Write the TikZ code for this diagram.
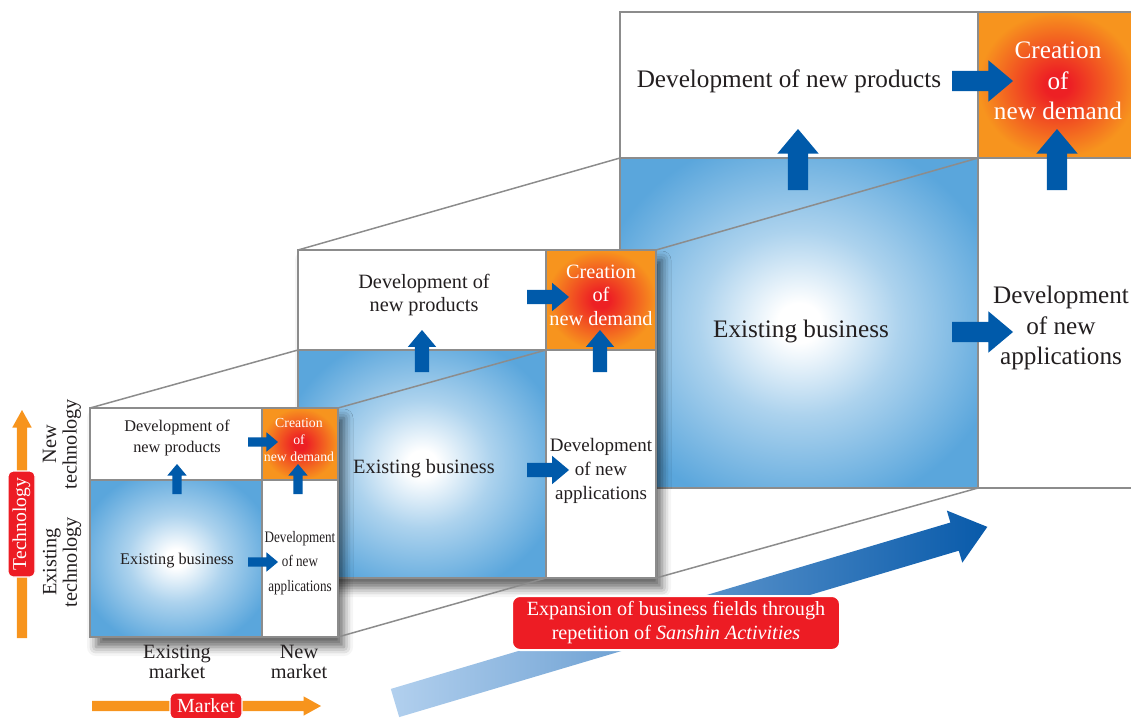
\documentclass[tikz,border=0pt]{standalone}
\usepackage{fontspec}
\setmainfont{Liberation Serif}
\usetikzlibrary{shapes.arrows,shadows.blur}

\definecolor{cellblue}{RGB}{90,166,220}
\definecolor{ndorange}{RGB}{247,148,30}
\definecolor{ndred}{RGB}{237,32,36}
\definecolor{tagred}{RGB}{237,28,36}
\definecolor{arrowblue}{RGB}{0,90,170}
\definecolor{rulegray}{RGB}{140,140,140}
\definecolor{inkgray}{RGB}{35,31,32}
\definecolor{axisorange}{RGB}{247,148,29}
\definecolor{paleblue}{RGB}{178,208,238}
\definecolor{deepblue}{RGB}{8,90,170}
\colorlet{glowmid}{cellblue!50!white}

\pgfdeclareradialshading{bizglow}{\pgfpoint{0bp}{0bp}}{color(0bp)=(white); color(3bp)=(white); color(14bp)=(glowmid); color(29bp)=(cellblue); color(50bp)=(cellblue)}
\pgfdeclareradialshading{demandglow}{\pgfpoint{0bp}{0bp}}{color(0bp)=(ndred); color(4bp)=(ndred); color(25bp)=(ndorange); color(50bp)=(ndorange)}

\begin{document}
\begin{tikzpicture}[x=1pt,y=-1pt,
    cell/.style={draw=rulegray,line width=2pt,inner sep=0pt,outer sep=0pt,anchor=north west},
    plain/.style={cell,fill=white},
    biz/.style={cell,shade,shading=bizglow},
    demand/.style={cell,shade,shading=demandglow},
    gridframe/.style={cell,fill=white,blur shadow={shadow xshift=6pt,shadow yshift=-10pt,shadow blur radius=9pt,shadow opacity=60}},
    guide/.style={draw=rulegray,line width=1.5pt},
    celltext/.style={text=inkgray,align=center,inner sep=0pt},
    demandtext/.style={text=white,align=center,inner sep=0pt},
    sfont/.style={font=\fontsize{16.3}{20.5}\selectfont},
    sdfont/.style={font=\fontsize{13.8}{17}\selectfont},
    snfont/.style={font=\fontsize{16}{24.5}\selectfont},
    mfont/.style={font=\fontsize{20.3}{23.5}\selectfont},
    mnfont/.style={font=\fontsize{19}{24}\selectfont},
    bfont/.style={font=\fontsize{25.2}{30.5}\selectfont},
    blockarrow/.style={single arrow,fill=arrowblue,inner xsep=0pt,outer sep=0pt,minimum width=0pt,anchor=tail,single arrow tip angle=80},
    sarrow/.style={blockarrow,minimum height=30pt,inner ysep=4.5pt,single arrow head extend=5pt},
    marrow/.style={blockarrow,minimum height=42pt,inner ysep=7pt,single arrow head extend=7pt},
    barrow/.style={blockarrow,minimum height=61pt,inner ysep=10pt,single arrow head extend=10.5pt},
    axisarrow/.style={single arrow,fill=axisorange,inner xsep=0pt,inner ysep=5pt,outer sep=0pt,minimum width=0pt,anchor=tail,single arrow head extend=4.5pt,single arrow tip angle=58},
    axistext/.style={text=inkgray,align=center,inner sep=0pt,font=\fontsize{20.3}{20.5}\selectfont},
    tag/.style={fill=tagred,draw=white,line width=1.2pt,rounded corners=5pt,text=white,inner sep=0pt,align=center}]

    \useasboundingbox (0,0) rectangle (1131,717);
    \clip (0,0) rectangle (1131,717);

    \node[plain, minimum width=358pt, minimum height=146pt] (bNP) at (620,12) {};
    \node[demand, minimum width=159pt, minimum height=146pt] (bND) at (978,12) {};
    \node[biz, minimum width=358pt, minimum height=330pt] (bEB) at (620,158) {};
    \node[plain, minimum width=159pt, minimum height=330pt] (bNA) at (978,158) {};

    \node[gridframe, minimum width=358pt, minimum height=328pt] (mGrid) at (298,250) {};
    \node[plain, minimum width=248pt, minimum height=100pt] (mNP) at (298,250) {};
    \node[demand, minimum width=110pt, minimum height=100pt] (mND) at (546,250) {};
    \node[biz, minimum width=248pt, minimum height=228pt] (mEB) at (298,350) {};
    \node[plain, minimum width=110pt, minimum height=228pt] (mNA) at (546,350) {};

    \node[gridframe, minimum width=248pt, minimum height=229pt] (sGrid) at (90,408) {};
    \node[plain, minimum width=172pt, minimum height=72pt] (sNP) at (90,408) {};
    \node[demand, minimum width=76pt, minimum height=72pt] (sND) at (262,408) {};
    \node[biz, minimum width=172pt, minimum height=157pt] (sEB) at (90,480) {};
    \node[plain, minimum width=76pt, minimum height=157pt] (sNA) at (262,480) {};

    \draw[guide] (sGrid.north west) -- (mEB.north west);
    \draw[guide] (sGrid.north east) -- (mEB.north east);
    \draw[guide] (sGrid.south east) -- (mEB.south east);
    \draw[guide] (mGrid.north west) -- (bEB.north west);
    \draw[guide] (mGrid.north east) -- (bEB.north east);
    \draw[guide] (mGrid.south east) -- (bEB.south east);

    \node[celltext,sfont] (sNPt) at (177,438) {Development of\\new products};
    \node[demandtext,sdfont] (sNDt) at (299,440) {Creation\\of\\new demand};
    \node[celltext,sfont] (sEBt) at (177,561) {Existing business};
    \node[celltext,snfont,xscale=0.82] (sNAt) at (300,563) {Development\\of new\\applications};
    \node[sarrow] (sRight1) at (248,442) {};
    \node[sarrow] (sRight2) at (248,562) {};
    \node[sarrow,rotate=90] (sUp1) at (177,494) {};
    \node[sarrow,rotate=90] (sUp2) at (298,494) {};

    \node[celltext,mfont] (mNPt) at (424,295) {Development of\\new products};
    \node[demandtext,mfont] (mNDt) at (601,295) {Creation\\of\\new demand};
    \node[celltext,mfont] (mEBt) at (424,469) {Existing business};
    \node[celltext,mnfont] (mNAt) at (601,471) {Development\\of new\\applications};
    \node[marrow] (mRight1) at (527,297) {};
    \node[marrow] (mRight2) at (527,470) {};
    \node[marrow,rotate=90] (mUp1) at (422,372) {};
    \node[marrow,rotate=90] (mUp2) at (600,372) {};

    \node[celltext,bfont] (bNPt) at (789,81) {Development of new products};
    \node[demandtext,bfont] (bNDt) at (1058,81) {Creation\\of\\new demand};
    \node[celltext,bfont] (bEBt) at (801,331) {Existing business};
    \node[celltext,bfont] (bNAt) at (1061,328) {Development\\of new\\applications};
    \node[barrow] (bRight1) at (952,81) {};
    \node[barrow] (bRight2) at (952,332) {};
    \node[barrow,rotate=90] (bUp1) at (798,190) {};
    \node[barrow,rotate=90] (bUp2) at (1057,190) {};

    \node[axisarrow,rotate=90,minimum height=228pt] (techAxis) at (22,638) {};
    \node[tag,rotate=90,minimum width=106pt,minimum height=27pt,font=\fontsize{19.6}{20}\selectfont] (techTag) at (21.5,524) {Technology};
    \node[axistext,rotate=90] (newTech) at (62,444) {New\\technology};
    \node[axistext,rotate=90] (oldTech) at (62,562) {Existing\\technology};

    \node[axisarrow,minimum height=229pt] (marketAxis) at (92,706) {};
    \node[tag,minimum width=72pt,minimum height=26pt,font=\fontsize{20}{20}\selectfont] (marketTag) at (206,706) {Market};
    \node[axistext] (oldMarket) at (177,662) {Existing\\market};
    \node[axistext] (newMarket) at (299,662) {New\\market};

    \node[single arrow,left color=paleblue,right color=deepblue,inner xsep=0pt,inner ysep=14.5pt,outer sep=0pt,
          minimum width=0pt,anchor=tail,rotate=16.56,minimum height=618pt,single arrow head extend=12.5pt,
          single arrow tip angle=77] (growth) at (395,703) {};
    \node[tag,line width=2pt,rounded corners=8pt,minimum width=328pt,minimum height=54pt,
          font=\fontsize{20.2}{24}\selectfont] (growthTag) at (676,623)
          {Expansion of business fields through\\repetition of \textit{Sanshin Activities}};
\end{tikzpicture}
\end{document}
